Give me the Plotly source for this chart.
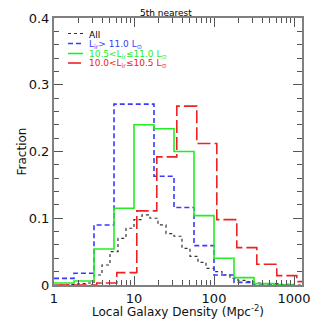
import plotly.graph_objects as go

# ---- data (log10 of density for bin edges) ----
coarse_edges_log = [0.0, 0.25, 0.5, 0.75, 1.0, 1.25, 1.5, 1.75, 2.0, 2.25, 2.5, 2.75, 3.0]
red_edges_log = [0.035, 0.285, 0.535, 0.785, 1.035, 1.285, 1.535, 1.785, 2.035, 2.285, 2.535, 2.785, 3.035, 3.285]
fine_edges_log = [0.0, 0.1, 0.2, 0.3, 0.4, 0.5, 0.6, 0.7, 0.8, 0.9, 1.0, 1.1, 1.2, 1.3, 1.4, 1.5,
                  1.6, 1.7, 1.8, 1.9, 2.0, 2.1, 2.2, 2.3, 2.4, 2.5, 2.6, 2.7, 2.8, 2.9, 3.0, 3.1]

all_vals = [0, 0, 0.001, 0.002, 0.003, 0.015, 0.03, 0.05, 0.07, 0.085, 0.098, 0.105, 0.1, 0.09,
            0.077, 0.073, 0.055, 0.043, 0.034, 0.025, 0.02, 0.015, 0.01, 0.007, 0.005, 0.003,
            0.002, 0.002, 0.001, 0.001, 0]
blue_vals = [0.010, 0.0176, 0.090, 0.271, 0.271, 0.163, 0.116, 0.059, 0.015, 0.004, 0, 0]
green_vals = [0.003, 0.006, 0.054, 0.115, 0.240, 0.234, 0.200, 0.104, 0.040, 0.011, 0.002, 0]
red_vals = [0, 0, 0.003, 0.0185, 0.111, 0.192, 0.268, 0.212, 0.098, 0.056, 0.031, 0.014, 0.005]

x_tickvals = [1, 10, 100, 1000]
x_ticktext = ["1", "10", "100", "1000"]
y_tickvals = [0, 0.1, 0.2, 0.3, 0.4]
y_ticktext = ["0", "0.1", "0.2", "0.3", "0.4"]
x_minor = [2, 3, 4, 5, 6, 7, 8, 9, 20, 30, 40, 50, 60, 70, 80, 90, 200, 300, 400, 500, 600, 700, 800, 900]

labels = ["All",
          "L<sub>ir</sub>> 11.0 L<sub>⊙</sub>",
          "10.5<L<sub>ir</sub>≤11.0 L<sub>⊙</sub>",
          "10.0<L<sub>ir</sub>≤10.5 L<sub>⊙</sub>"]

BLACK = "#333333"
BLUE = "#3a3aff"
GREEN = "#22ee22"
RED = "#ee2222"
FONT = "DejaVu Sans"

# page body has an 8px margin: figure is drawn from (8, 8) in the window
OFF = 8
W = H = 319 - OFF


def step_xy(edges_log, vals):
    xs = [10 ** e for e in edges_log]
    ys = list(vals) + [vals[-1]]
    return xs, ys


fig = go.Figure()
series = [
    (fine_edges_log, all_vals, BLACK, "dot", 1.2),
    (coarse_edges_log, blue_vals, BLUE, "5px,3px", 1.6),
    (coarse_edges_log, green_vals, GREEN, "solid", 1.6),
    (red_edges_log, red_vals, RED, "13px,4px", 1.6),
]
for name, (edges, vals, col, dash, w) in zip(labels, series):
    xs, ys = step_xy(edges, vals)
    fig.add_trace(go.Scatter(x=xs, y=ys, mode="lines", name=name,
                             line=dict(color=col, dash=dash, width=w, shape="hv"),
                             showlegend=False))

# plot area in window pixels
L, R, T, B = 54, 302, 18, 285
def px(x):
    return (x - L) / (R - L)
def py(y):
    return (B - y) / (B - T)

# ---- manual legend (compact like reference) ----
leg_rows = [33.5, 43.5, 53.5, 63]
leg_cols = [BLACK, BLUE, GREEN, RED]
leg_dash = ["dot", "5px,3px", "solid", "13px,4px"]
for yy, col, dash, lab in zip(leg_rows, leg_cols, leg_dash, labels):
    fig.add_shape(type="line", xref="paper", yref="paper",
                  x0=px(68), x1=px(83), y0=py(yy), y1=py(yy),
                  line=dict(color=col, dash=dash, width=1.6 if col != BLACK else 1.2))
    fig.add_annotation(xref="paper", yref="paper", x=px(87), y=py(yy + 1),
                       text=lab, showarrow=False, xanchor="left", yanchor="middle",
                       font=dict(family=FONT, size=9, color=col if col != BLACK else "#000000"))

fig.add_annotation(xref="paper", yref="paper", x=px(166), y=py(13),
                   text="5th nearest", showarrow=False, xanchor="center", yanchor="middle",
                   font=dict(family=FONT, size=9, color="#000000"))

axis_common = dict(showline=True, linecolor="#808080", linewidth=2, mirror="allticks",
                   ticks="inside", tickcolor="#555555", tickwidth=1, showgrid=False,
                   zeroline=False, automargin=False,
                   tickfont=dict(family=FONT, size=13, color="#111111"))

fig.update_xaxes(type="log", range=[0, 3.1], tickvals=x_tickvals, ticktext=x_ticktext,
                 ticklen=9,
                 minor=dict(tickvals=x_minor, ticks="inside", ticklen=5, tickcolor="#555555",
                            showgrid=False),
                 title=dict(text="Local Galaxy Density (Mpc<sup>-2</sup>)",
                            font=dict(family=FONT, size=12, color="#111111"), standoff=2),
                 **axis_common)
fig.update_yaxes(range=[0, 0.4], tickvals=y_tickvals, ticktext=y_ticktext, ticklen=9,
                 minor=dict(dtick=0.02, ticks="inside", ticklen=5, tickcolor="#555555",
                            showgrid=False),
                 title=dict(text="Fraction", font=dict(family=FONT, size=12, color="#111111"),
                            standoff=0),
                 **axis_common)

fig.update_layout(width=W, height=H,
                  margin=dict(l=L - OFF, r=319 - R, t=T - OFF, b=319 - B),
                  paper_bgcolor="white", plot_bgcolor="white", showlegend=False)

fig.write_html("out.html")
